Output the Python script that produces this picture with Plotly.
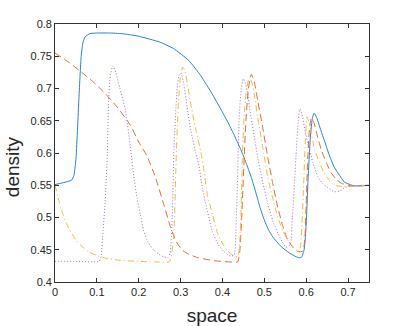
import plotly.graph_objects as go

# ---- data ----
blue_x = [0, 0.02, 0.04, 0.045, 0.05, 0.057, 0.0625, 0.067, 0.072, 0.083, 0.1, 0.13, 0.16, 0.2,
          0.25, 0.283, 0.32, 0.348, 0.375, 0.396, 0.415, 0.43, 0.444, 0.458, 0.47, 0.48, 0.49,
          0.5, 0.51, 0.52, 0.54, 0.56, 0.58, 0.588, 0.595, 0.6, 0.604, 0.61, 0.615, 0.619,
          0.625, 0.635, 0.643, 0.655, 0.667, 0.68, 0.691, 0.715, 0.75]
blue_y = [0.551, 0.554, 0.558, 0.565, 0.59, 0.682, 0.75, 0.772, 0.780, 0.785, 0.786, 0.786,
          0.785, 0.781, 0.772, 0.762, 0.743, 0.72, 0.692, 0.668, 0.645, 0.625, 0.605, 0.582,
          0.56, 0.538, 0.515, 0.496, 0.481, 0.47, 0.455, 0.445, 0.438, 0.438, 0.45, 0.49, 0.553,
          0.625, 0.655, 0.662, 0.655, 0.635, 0.620, 0.597, 0.578, 0.565, 0.555, 0.549, 0.55]

orange_x = [0, 0.03, 0.06, 0.09, 0.12, 0.15, 0.18, 0.2, 0.22, 0.24, 0.26, 0.275, 0.29, 0.305, 0.32,
            0.34, 0.38, 0.42, 0.436, 0.441, 0.446, 0.451, 0.456, 0.462, 0.469, 0.476, 0.484, 0.496,
            0.508, 0.52, 0.532, 0.544, 0.556, 0.568, 0.58, 0.592, 0.597, 0.6, 0.603, 0.607, 0.612,
            0.618, 0.626, 0.636, 0.648, 0.66, 0.672, 0.684, 0.708, 0.75]
orange_y = [0.755, 0.742, 0.727, 0.711, 0.692, 0.670, 0.643, 0.617, 0.595, 0.562, 0.52, 0.487,
            0.462, 0.449, 0.443, 0.438, 0.433, 0.431, 0.431, 0.445, 0.50, 0.58, 0.65, 0.70, 0.722,
            0.71, 0.682, 0.64, 0.594, 0.553, 0.516, 0.487, 0.465, 0.454, 0.447, 0.448, 0.47, 0.52,
            0.58, 0.63, 0.654, 0.648, 0.628, 0.605, 0.585, 0.569, 0.559, 0.553, 0.549, 0.55]

yellow_x = [0, 0.01, 0.02, 0.03, 0.04, 0.05, 0.06, 0.07, 0.08, 0.1, 0.12, 0.15, 0.2, 0.25, 0.273,
            0.278, 0.284, 0.29, 0.295, 0.3, 0.305, 0.31, 0.318, 0.326, 0.335, 0.348, 0.356, 0.364,
            0.376, 0.388, 0.4, 0.412, 0.428, 0.436, 0.44, 0.444, 0.448, 0.453, 0.458, 0.464, 0.47,
            0.476, 0.484, 0.496, 0.508, 0.52, 0.532, 0.544, 0.556, 0.568, 0.578, 0.585, 0.59,
            0.594, 0.598, 0.602, 0.608, 0.62, 0.632, 0.643, 0.655, 0.667, 0.69, 0.75]
yellow_y = [0.55, 0.524, 0.503, 0.487, 0.475, 0.465, 0.458, 0.452, 0.447, 0.441, 0.437, 0.434,
            0.432, 0.431, 0.431, 0.44, 0.476, 0.605, 0.68, 0.72, 0.733, 0.728, 0.70, 0.67, 0.64,
            0.603, 0.572, 0.535, 0.505, 0.476, 0.46, 0.448, 0.44, 0.439, 0.45, 0.50, 0.605, 0.67,
            0.70, 0.718, 0.71, 0.69, 0.656, 0.61, 0.563, 0.53, 0.501, 0.48, 0.465, 0.455, 0.45,
            0.452, 0.49, 0.553, 0.62, 0.656, 0.645, 0.605, 0.585, 0.569, 0.558, 0.55, 0.548, 0.55]

purple_x = [0, 0.05, 0.105, 0.11, 0.115, 0.12, 0.125, 0.128, 0.132, 0.138, 0.145, 0.155, 0.168,
            0.18, 0.188, 0.196, 0.204, 0.211, 0.222, 0.235, 0.248, 0.26, 0.27, 0.275, 0.28, 0.284,
            0.288, 0.292, 0.296, 0.301, 0.308, 0.316, 0.324, 0.336, 0.344, 0.352, 0.364, 0.376,
            0.39, 0.405, 0.42, 0.428, 0.432, 0.436, 0.44, 0.445, 0.45, 0.458, 0.468, 0.476, 0.484,
            0.496, 0.508, 0.52, 0.532, 0.542, 0.552, 0.562, 0.567, 0.572, 0.577, 0.581, 0.585, 0.59,
            0.597, 0.604, 0.616, 0.628, 0.64, 0.652, 0.667, 0.68, 0.691, 0.71, 0.75]
purple_y = [0.432, 0.432, 0.432, 0.44, 0.48, 0.527, 0.60, 0.682, 0.72, 0.735, 0.725, 0.70, 0.667,
            0.61, 0.565, 0.53, 0.505, 0.481, 0.462, 0.45, 0.443, 0.439, 0.438, 0.445, 0.501, 0.605,
            0.66, 0.70, 0.72, 0.724, 0.705, 0.67, 0.636, 0.60, 0.58, 0.545, 0.51, 0.478, 0.458,
            0.446, 0.44, 0.442, 0.477, 0.56, 0.656, 0.70, 0.715, 0.70, 0.656, 0.625, 0.594, 0.555,
            0.522, 0.495, 0.476, 0.463, 0.454, 0.458, 0.50, 0.553, 0.61, 0.65, 0.668, 0.66, 0.635,
            0.615, 0.585, 0.563, 0.552, 0.546, 0.54, 0.541, 0.546, 0.549, 0.55]

x_ticks = [0, 0.1, 0.2, 0.3, 0.4, 0.5, 0.6, 0.7]
x_tick_labels = ["0", "0.1", "0.2", "0.3", "0.4", "0.5", "0.6", "0.7"]
y_ticks = [0.4, 0.45, 0.5, 0.55, 0.6, 0.65, 0.7, 0.75, 0.8]
y_tick_labels = ["0.4", "0.45", "0.5", "0.55", "0.6", "0.65", "0.7", "0.75", "0.8"]

FONT = "Liberation Sans, Arial, sans-serif"

fig = go.Figure()
fig.add_trace(go.Scatter(x=blue_x, y=blue_y, mode="lines", hoverinfo="skip",
                         line=dict(color="#2a84c8", width=1.0, dash="solid",
                                   shape="spline", smoothing=0.5)))
fig.add_trace(go.Scatter(x=orange_x, y=orange_y, mode="lines", hoverinfo="skip",
                         line=dict(color="#e06a3a", width=1.0, dash="7px,4px",
                                   shape="spline", smoothing=0.5)))
fig.add_trace(go.Scatter(x=yellow_x, y=yellow_y, mode="lines", hoverinfo="skip",
                         line=dict(color="#f0bb40", width=1.0, dash="6px,3px,1px,3px",
                                   shape="spline", smoothing=0.5)))
fig.add_trace(go.Scatter(x=purple_x, y=purple_y, mode="lines", hoverinfo="skip",
                         line=dict(color="#a46fc0", width=1.0, dash="1px,2px",
                                   shape="spline", smoothing=0.5)))

axis_common = dict(
    showgrid=False, zeroline=False, showline=True, linecolor="#333333", linewidth=0.7,
    mirror="ticks", ticks="inside", ticklen=4, tickwidth=0.7, tickcolor="#333333",
    tickfont=dict(family=FONT, size=11, color="#262626"), automargin=False,
)
fig.update_xaxes(range=[0, 0.75], tickvals=x_ticks, ticktext=x_tick_labels,
                 title=dict(text="space", font=dict(family=FONT, size=19, color="#262626"),
                            standoff=12),
                 **axis_common)
fig.update_yaxes(range=[0.4, 0.8], tickvals=y_ticks, ticktext=y_tick_labels, **axis_common)
fig.add_annotation(text="density", xref="paper", yref="paper", x=-0.137, y=0.449,
                   xanchor="center", yanchor="middle", textangle=-90, showarrow=False,
                   font=dict(family=FONT, size=19, color="#262626"))
fig.update_layout(width=407, height=326, margin=dict(l=55, r=38, t=24, b=44),
                  paper_bgcolor="white", plot_bgcolor="white", showlegend=False,
                  hovermode=False)
# remove the page's default 8px body margin so the figure fills the window exactly
fig.write_html("out.html", config={"displayModeBar": False},
               post_script="document.body.style.margin='0';document.body.style.overflow='hidden';")
